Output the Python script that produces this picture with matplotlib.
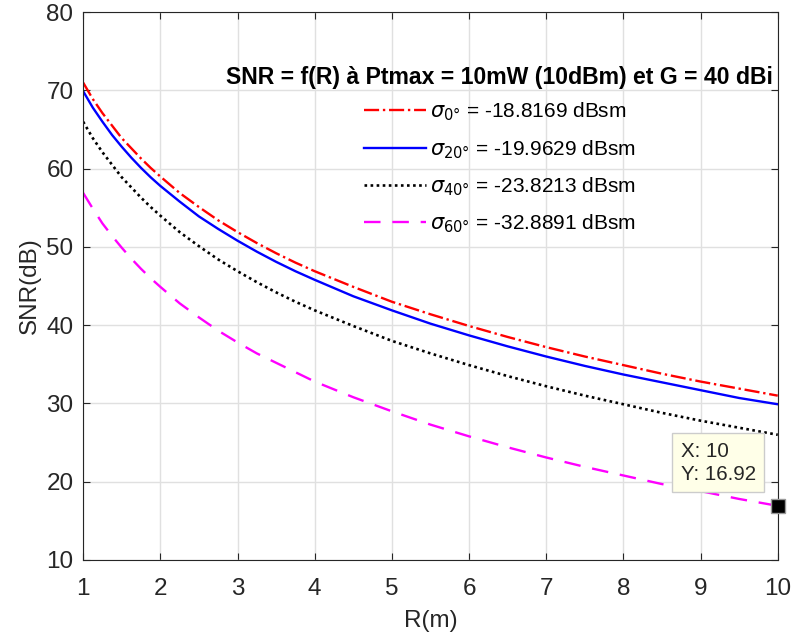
import matplotlib
matplotlib.use('Agg')
import matplotlib.pyplot as plt

plt.rcParams['font.family'] = ['Liberation Sans', 'DejaVu Sans']
plt.rcParams['mathtext.fontset'] = 'dejavusans'

# values
R = [1, 1.125, 1.25, 1.375, 1.5, 1.625, 1.75, 1.875, 2, 2.25, 2.5, 2.75,
     3, 3.25, 3.5, 3.75, 4, 4.5, 5, 5.5, 6, 6.5, 7, 7.5, 8, 8.5, 9, 9.5, 10]
snr_0 = [71.0, 68.9, 67.1, 65.5, 63.9, 62.6, 61.3, 60.1, 59.0, 56.9, 55.1,
         53.4, 51.9, 50.5, 49.2, 48.0, 46.9, 44.9, 43.0, 41.4, 39.9, 38.5,
         37.2, 36.0, 34.9, 33.8, 32.8, 31.9, 31.0]
snr_20 = [69.9, 67.8, 66.0, 64.3, 62.8, 61.4, 60.1, 58.9, 57.8, 55.8, 53.9,
          52.3, 50.8, 49.4, 48.1, 46.9, 45.8, 43.7, 41.9, 40.2, 38.7, 37.3,
          36.0, 34.8, 33.7, 32.7, 31.7, 30.7, 29.9]
snr_40 = [66.0, 63.9, 62.1, 60.5, 58.9, 57.6, 56.3, 55.1, 54.0, 51.9, 50.1,
          48.4, 46.9, 45.5, 44.2, 43.0, 41.9, 39.9, 38.0, 36.4, 34.9, 33.5,
          32.2, 31.0, 29.9, 28.8, 27.8, 26.9, 26.0]
snr_60 = [56.9, 54.9, 53.0, 51.4, 49.9, 48.5, 47.2, 46.0, 44.9, 42.8, 41.0,
          39.3, 37.8, 36.4, 35.2, 34.0, 32.8, 30.8, 29.0, 27.3, 25.8, 24.4,
          23.1, 21.9, 20.8, 19.7, 18.8, 17.8, 16.92]
labels = [r'$\sigma_{0°}$ = -18.8169 dBsm',
          r'$\sigma_{20°}$ = -19.9629 dBsm',
          r'$\sigma_{40°}$ = -23.8213 dBsm',
          r'$\sigma_{60°}$ = -32.8891 dBsm']
tip_x = 10
tip_y = 16.92

axcol = (0.15, 0.15, 0.15)

fig = plt.figure(figsize=(7.92, 6.4), dpi=100)
ax = fig.add_axes([0.105, 0.125, 0.877, 0.856])

ax.plot(R, snr_0, color='red', linestyle='-.', linewidth=1.7, label=labels[0])
ax.plot(R, snr_20, color='blue', linestyle='-', linewidth=1.7, label=labels[1])
ax.plot(R, snr_40, color='black', linestyle=(0, (1, 1.3)), linewidth=1.9,
        label=labels[2])
ax.plot(R, snr_60, color='magenta', linestyle=(0, (7, 5)), linewidth=1.7,
        label=labels[3])

ax.set_xlim(1, 10)
ax.set_ylim(10, 80)
ax.set_xticks(range(1, 11))
ax.set_yticks(range(10, 81, 10))
ax.grid(True, color=(0.88, 0.88, 0.88), linewidth=1)
ax.set_axisbelow(True)
ax.tick_params(direction='in', top=True, right=True, labelsize=17.5,
               colors=axcol, length=5)
ax.tick_params(axis='x', pad=13)
ax.tick_params(axis='y', pad=7)
for s in ax.spines.values():
    s.set_color(axcol)
ax.set_xlabel('R(m)', fontsize=17.5, color=axcol, labelpad=7)
ax.set_ylabel('SNR(dB)', fontsize=17.5, color=axcol, labelpad=4)

leg = ax.legend(loc='upper center', bbox_to_anchor=(0.6, 0.936), frameon=False,
                fontsize=15, handlelength=3.0, handletextpad=0.2,
                labelspacing=0.7,
                title='SNR = f(R) à Ptmax = 10mW (10dBm) et G = 40 dBi',
                title_fontproperties={'weight': 'bold', 'size': 16.6})
leg._legend_box.sep = 8.5

# data tip
ax.plot([tip_x], [tip_y], marker='s', markersize=10, color='black',
        markeredgecolor=(0.6, 0.6, 0.6), clip_on=False, zorder=5)
ax.text(8.74, 22.4, 'X: 10\nY: 16.92', fontsize=14.8, color=axcol,
        va='center', ha='left', linespacing=1.3,
        bbox=dict(boxstyle='square,pad=0.4', facecolor='#FFFFE8',
                  edgecolor=(0.8, 0.8, 0.8)), zorder=6)

fig.savefig('out.png', dpi=100)
